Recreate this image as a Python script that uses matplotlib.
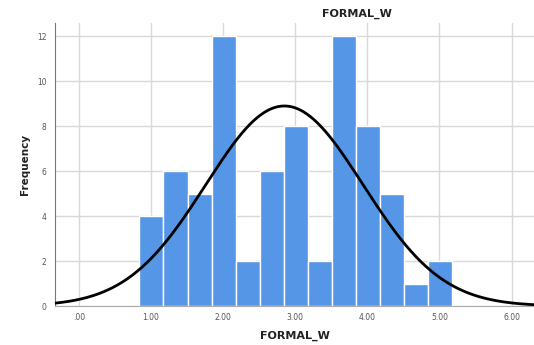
import numpy as np
import matplotlib
matplotlib.use('Agg')
import matplotlib.pyplot as plt

# histogram of FORMAL_W (bin edges and counts)
bin_edges = [0.84, 1.173, 1.507, 1.84, 2.173, 2.507, 2.84, 3.173, 3.507, 3.84, 4.173, 4.507, 4.84, 5.173]
counts = [4, 6, 5, 12, 2, 6, 8, 2, 12, 8, 5, 1, 2]

# normal curve parameters
mean_w = 2.85
sd_w = 1.09

x_ticks = [0, 1, 2, 3, 4, 5, 6]
x_labels = ['.00', '1.00', '2.00', '3.00', '4.00', '5.00', '6.00']
y_ticks = [0, 2, 4, 6, 8, 10, 12]

fig = plt.figure(figsize=(5.34, 3.45), dpi=100)
ax = fig.add_axes([55/534, 1 - 306/345, (534 - 55)/534, (306 - 23)/345])

widths = np.diff(bin_edges)
ax.bar(bin_edges[:-1], counts, width=widths, align='edge',
       color='#5596e6', edgecolor='white', linewidth=1.0, zorder=2)

n = sum(counts)
bw = widths.mean()
xs = np.linspace(-0.35, 6.35, 400)
ys = n * bw / (sd_w * np.sqrt(2 * np.pi)) * np.exp(-0.5 * ((xs - mean_w) / sd_w) ** 2)
ax.plot(xs, ys, color='black', linewidth=2.0, zorder=3)

ax.set_xlim(-0.33, 6.31)
ax.set_ylim(0, 12.6)
ax.set_xticks(x_ticks)
ax.set_xticklabels(x_labels)
ax.set_yticks(y_ticks)
ax.grid(True, color='#d9d9d9', linewidth=1.0, zorder=0)
ax.set_axisbelow(True)
ax.tick_params(axis='x', length=0, labelsize=5.5, labelcolor='#555555', pad=5)
ax.tick_params(axis='y', length=0, labelsize=5.5, labelcolor='#555555', pad=6)
for s in ['top', 'right']:
    ax.spines[s].set_visible(False)
ax.spines['left'].set_color('#777777')
ax.spines['bottom'].set_color('#aaaaaa')

ax.set_xlabel('FORMAL_W', fontsize=8, fontweight='bold', color='#222222', labelpad=6)
ax.set_ylabel('Frequency', fontsize=7.5, fontweight='bold', color='#222222', labelpad=5)
fig.text(357/534, 1 - 14/345, 'FORMAL_W', ha='center', va='center',
         fontsize=8, fontweight='bold', color='#222222')

fig.savefig('out.png', dpi=100)
